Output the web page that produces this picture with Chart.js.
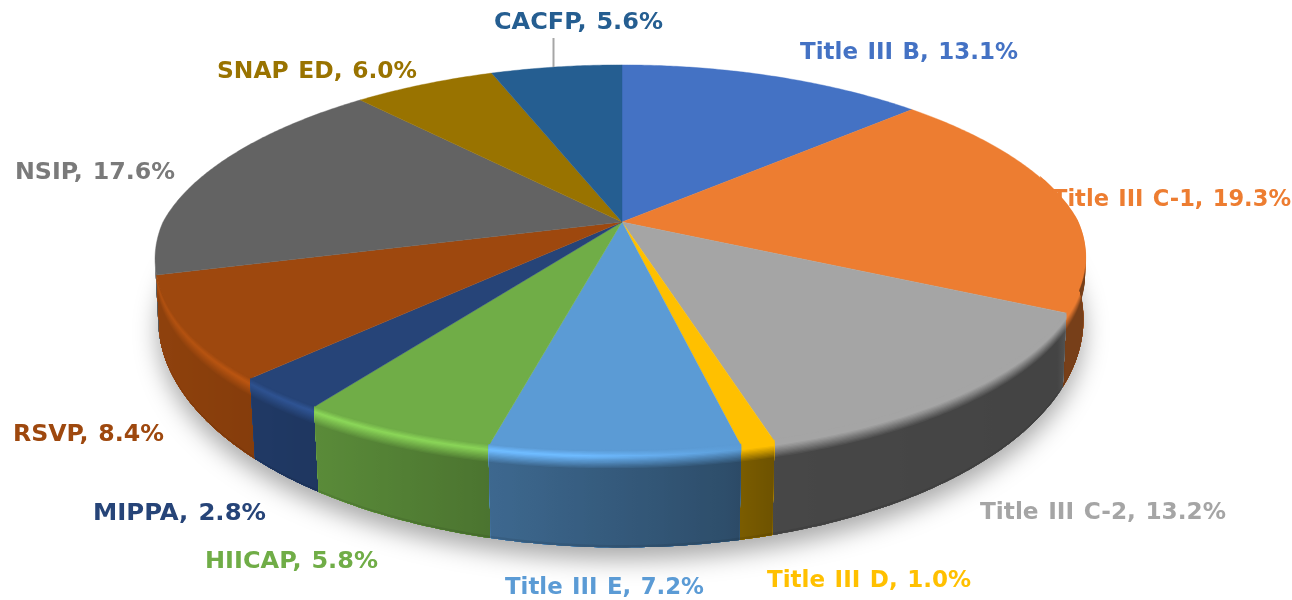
<!DOCTYPE html>
<html><head><meta charset="utf-8">
<script src="https://cdn.jsdelivr.net/npm/chart.js@4"></script>
<style>html,body{margin:0;padding:0;background:#fff}canvas{display:block}</style>
</head><body><canvas id="c" width="1292" height="600"></canvas>
<script>
const categories = ["Title III B","Title III C-1","Title III C-2","Title III D","Title III E","HIICAP","MIPPA","RSVP","NSIP","SNAP ED","CACFP"];
const shares = [13.1,19.3,13.2,1.0,7.2,5.8,2.8,8.4,17.6,6.0,5.6];
const colors = ["#4472C4","#ED7D31","#A5A5A5","#FFC000","#5B9BD5","#70AD47","#264478","#9E480E","#636363","#997300","#255E91"];
const labelColors = ["#4472C4","#ED7D31","#A5A5A5","#FFC000","#5B9BD5","#70AD47","#264478","#9E480E","#7A7A7A","#997300","#255E91"];
const labelBoxes = [[800,1018,53],[1052,1291,200],[980,1226,513],[767,971,581],[505,704,588],[205,378,562],[93,266,514],[13,164,435],[15,175,173],[217,417,72],[494,663,23]];

const PERSP_TOP=0.184, PERSP_BOT=0.1736, SX=459/222, SY_TOP=186/222, SY_BOT=221/222, DROP=58/222;
function proj(a,ang,rim){
  const th=ang+Math.PI/2,u=Math.sin(th),v=-Math.cos(th),r=a.outerRadius;
  const k=rim?PERSP_BOT:PERSP_TOP,w=1-k*v,sy=rim?SY_BOT:SY_TOP,oy=rim?DROP*r:0;
  const back=rim?(u>0?.99:.995):(1-.035*Math.max(0,-v))*(u>0?.993:1);
  const skew=rim?0:8*Math.max(0,-u)*Math.max(0,v);
  return [a.x+SX*r*back*u/w, a.y+oy+sy*r*v/w+skew];
}
function lerpTable(tbl,x){
  if(x<=tbl[0][0])return tbl[0][1];
  for(let i=1;i<tbl.length;i++) if(x<=tbl[i][0]){
    const [x0,y0]=tbl[i-1],[x1,y1]=tbl[i];return y0+(y1-y0)*(x-x0)/(x1-x0);}
  return tbl[tbl.length-1][1];
}
const wallTbl=[[-1,.9],[-.66,.8],[-.285,.67],[.23,.5],[.33,.43],[.955,.41],[.965,.5],[1,.5]];
const hiTbl=[[-1,1.12],[-.66,1.25],[-.1,1.22],[.28,1],[1,1]];
function rgb(hex){const n=parseInt(hex.slice(1),16);return [n>>16,(n>>8)&255,n&255];}
function mul(c,f){return `rgb(${c.map(x=>Math.min(255,Math.round(x*f))).join(",")})`;}
const BANDS=14;

const pie3d={
  id:'pie3d',
  beforeDatasetsDraw(chart){
    const ctx=chart.ctx,arcs=chart.getDatasetMeta(0).data,STEP=Math.PI/180;
    const a0=arcs[0],halfW=SX*a0.outerRadius;
    ctx.save();
    ctx.shadowColor='rgba(0,0,0,.34)';ctx.shadowBlur=24;ctx.shadowOffsetY=12;ctx.fillStyle='#fff';
    ctx.beginPath();
    for(let i=0;i<=360;i++){const p=proj(a0,i*Math.PI/180,true);i?ctx.lineTo(p[0],p[1]):ctx.moveTo(p[0],p[1]);}
    ctx.closePath();ctx.fill();ctx.restore();
    const limR=Math.acos(-0.25),limL=Math.acos(0.2);
    const order=arcs.map((a,i)=>({a,i,v:-Math.cos((a.startAngle+a.endAngle)/2+Math.PI/2)})).sort((p,q)=>p.v-q.v);
    order.forEach(({a,i})=>{
      const c=rgb(colors[i]),pad=.15*Math.PI/180;
      const s0=Math.max(a.startAngle-pad,Math.PI/2-limR),
            e0=Math.min(a.endAngle+pad,Math.PI/2+limL);
      if(e0<=s0)return;
      const n=Math.max(2,Math.ceil((e0-s0)/(STEP/2))),angs=[];
      for(let k=0;k<=n;k++)angs.push(s0+(e0-s0)*k/n);
      const tops=angs.map(x=>proj(a,x,false)),bots=angs.map(x=>proj(a,x,true));
      const xs=tops.concat(bots).map(p=>p[0]),minX=Math.min(...xs),maxX=Math.max(...xs);
      const paint=(tAt,mAt)=>{
        const g=ctx.createLinearGradient(minX,0,maxX,0);
        for(let k=0;k<=32;k++){
          const x=minX+(maxX-minX)*k/32;
          g.addColorStop(k/32,mul(c,mAt((x-a.x)/halfW)));
        }
        ctx.fillStyle=g;ctx.beginPath();
        tops.forEach((p,k)=>{const t=tAt(p,bots[k]),X=p[0]+(bots[k][0]-p[0])*t,Y=p[1]+(bots[k][1]-p[1])*t;
          k?ctx.lineTo(X,Y):ctx.moveTo(X,Y);});
        for(let k=n;k>=0;k--)ctx.lineTo(bots[k][0],bots[k][1]);
        ctx.closePath();ctx.fill();
      };
      for(let j=0;j<=BANDS;j++){
        const q=j/BANDS;
        paint((p,b)=>{const span=Math.min(.45,18/Math.max(1,b[1]-p[1]));return j?q*span:-.03;},
          u=>{const f=lerpTable(wallTbl,u),hi=lerpTable(hiTbl,u);
              return q<.3?1+(hi-1)*q/.3:hi+(f-hi)*(q-.3)/.7;});
      }
      paint(()=>.975,u=>lerpTable(wallTbl,u)*.92);
    });
    arcs.forEach((a,i)=>{
      ctx.fillStyle=colors[i];ctx.strokeStyle=colors[i];ctx.lineWidth=.4;
      ctx.beginPath();ctx.moveTo(a.x,a.y);
      const n=Math.ceil((a.endAngle-a.startAngle)/(STEP/2));
      for(let k=0;k<=n;k++){const p=proj(a,a.startAngle+(a.endAngle-a.startAngle)*k/n,false);ctx.lineTo(p[0],p[1]);}
      ctx.closePath();ctx.fill();ctx.stroke();
    });
    return false;
  },
  afterDraw(chart){
    const ctx=chart.ctx;
    ctx.save();
    ctx.strokeStyle='#A6A6A6';ctx.lineWidth=2;
    ctx.beginPath();ctx.moveTo(553.5,38);ctx.lineTo(553.5,67);ctx.stroke();
    ctx.textBaseline='middle';ctx.textAlign='left';ctx.font='bold 23.5px "DejaVu Sans"';
    categories.forEach((cat,i)=>{
      const t=`${cat}, ${shares[i].toFixed(1)}%`,[l,r,y]=labelBoxes[i];
      ctx.fillStyle=labelColors[i];
      ctx.wordSpacing='1.5px';
      const w=ctx.measureText(t).width;
      ctx.save();ctx.translate(l,y);ctx.scale((r-l)/w,1);ctx.fillText(t,0,0);ctx.restore();
    });
    ctx.restore();
  }
};
new Chart(document.getElementById('c'),{
  type:'pie',
  data:{labels:categories,datasets:[{data:shares,backgroundColor:colors,borderWidth:0,hoverOffset:0}]},
  options:{responsive:false,animation:false,events:[],
    layout:{padding:{right:48,bottom:156}},
    plugins:{legend:{display:false},tooltip:{enabled:false}}},
  plugins:[pie3d]
});
</script></body></html>
